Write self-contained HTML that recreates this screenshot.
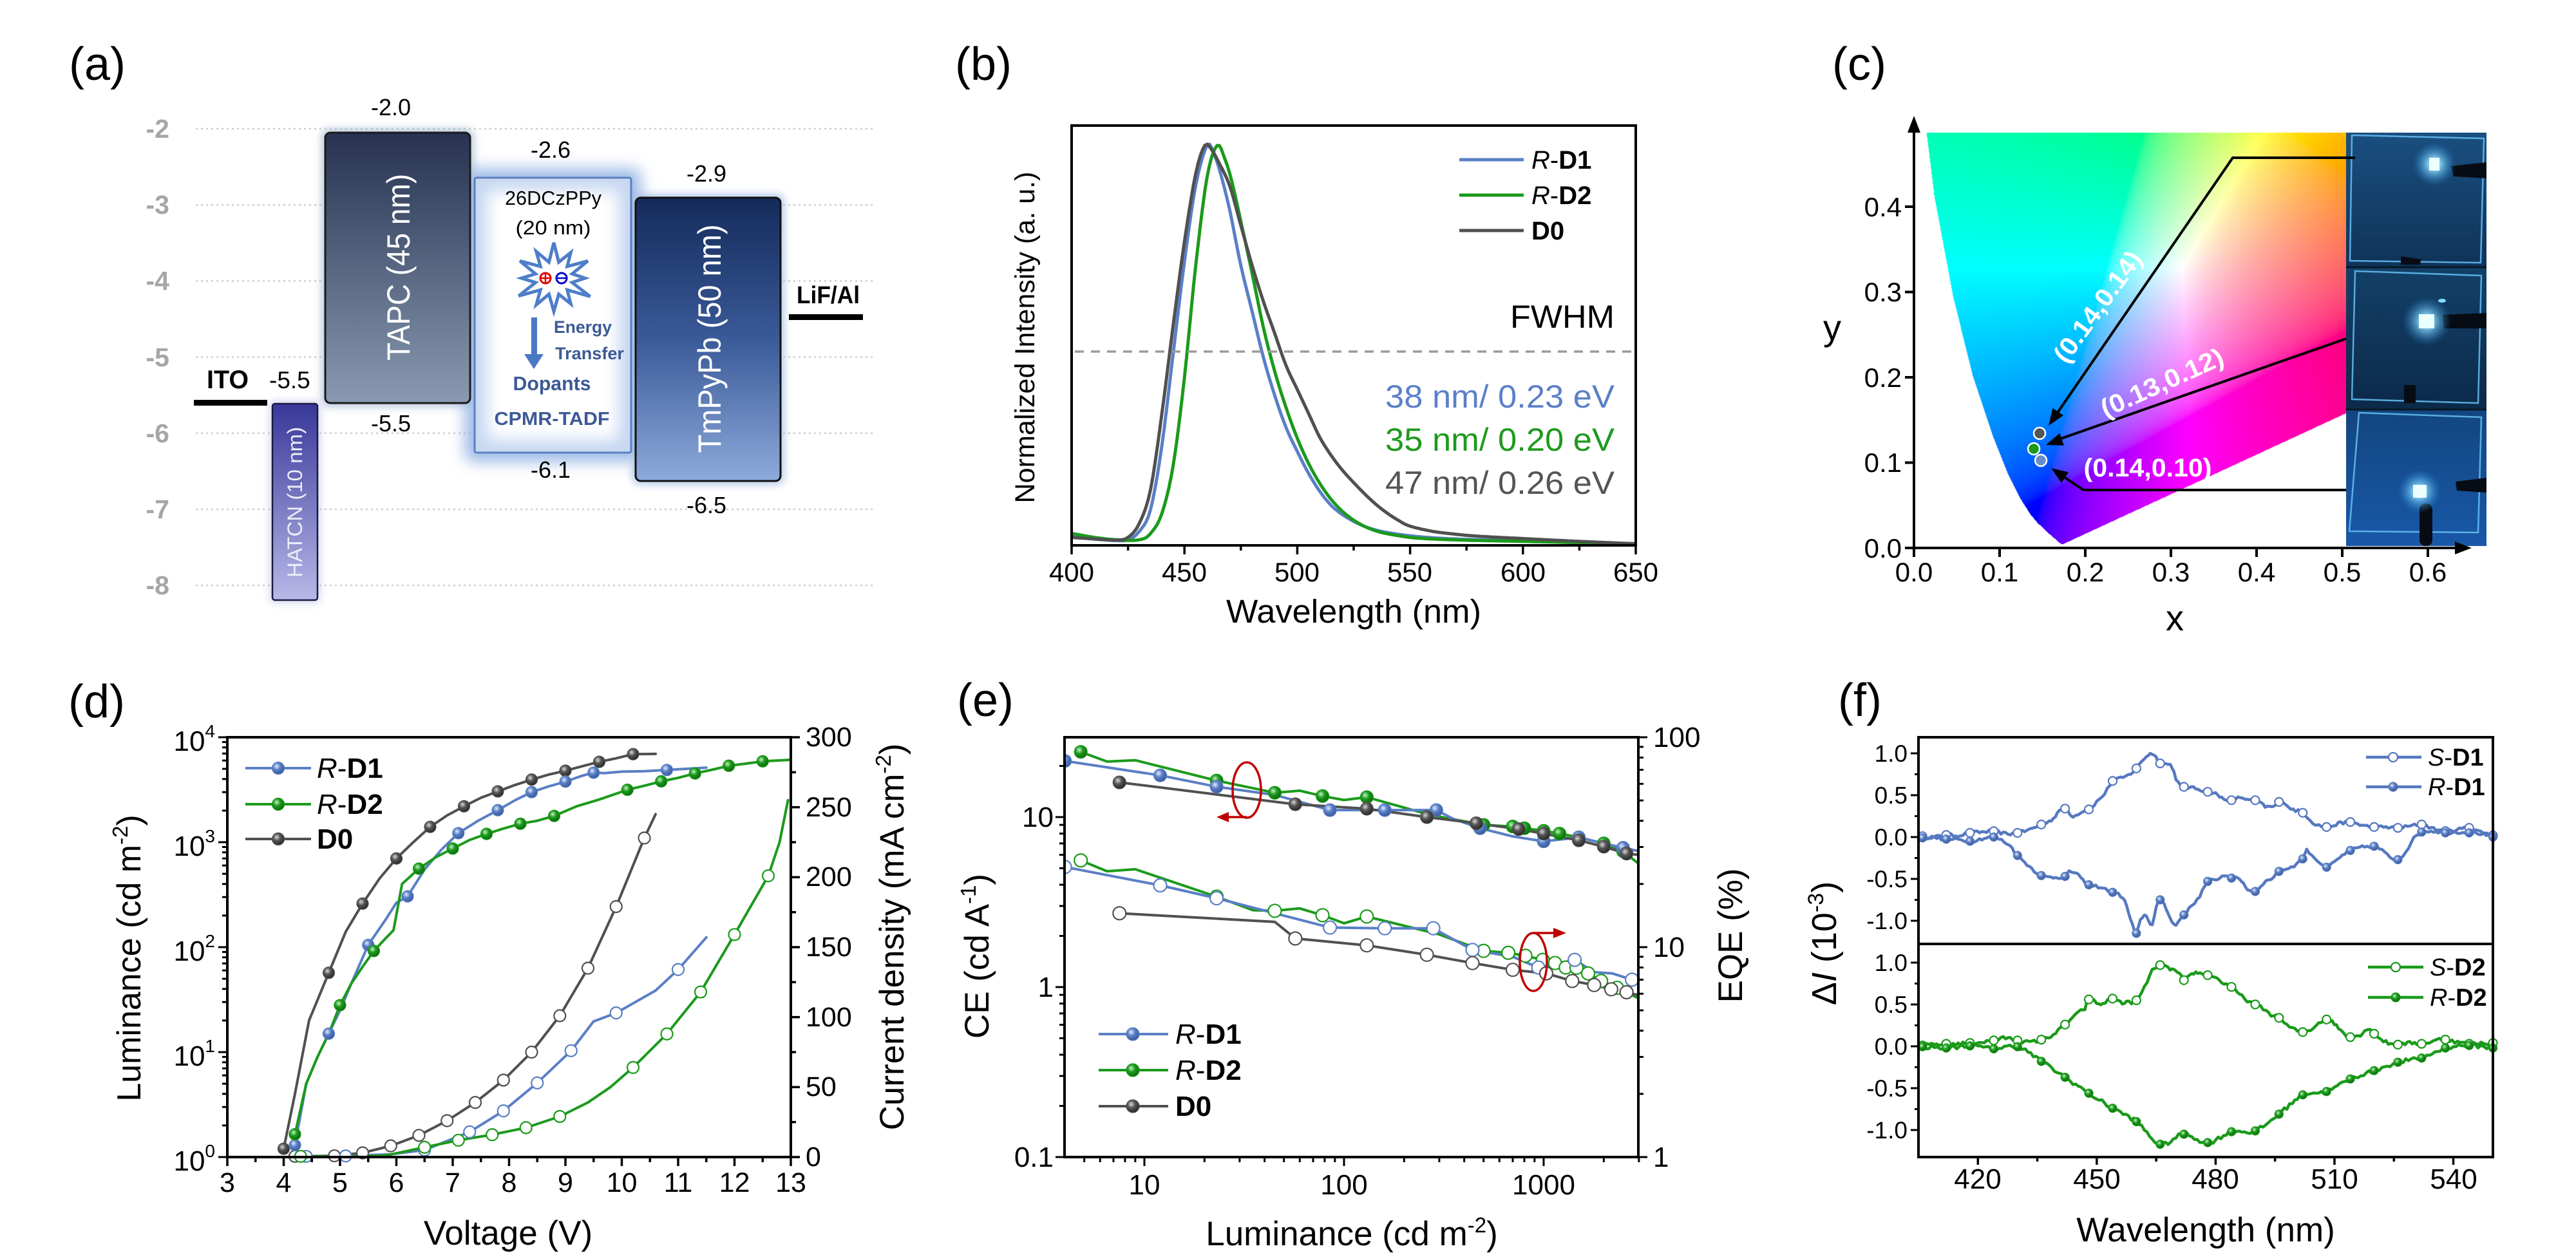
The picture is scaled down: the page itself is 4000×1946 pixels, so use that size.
<!DOCTYPE html>
<html><head><meta charset="utf-8">
<style>
html,body{margin:0;padding:0;background:#fff;}
#wrap{position:relative;width:4000px;height:1946px;overflow:hidden;background:#fff;}
#cie{position:absolute;left:2972px;top:195px;}
#s{position:absolute;left:0;top:0;}
text{font-family:"Liberation Sans",Arial,sans-serif;}
</style></head>
<body><div id="wrap">
<canvas id="cie" width="740" height="660"></canvas>
<svg id="s" width="4000" height="1946" viewBox="0 0 4000 1946" xmlns="http://www.w3.org/2000/svg">
<defs>
<radialGradient id="mB" cx="38%" cy="35%" r="65%"><stop offset="0" stop-color="#e4ecfa"/><stop offset=".45" stop-color="#5b80c8"/><stop offset="1" stop-color="#3a5a9a"/></radialGradient>
<radialGradient id="mG" cx="38%" cy="35%" r="65%"><stop offset="0" stop-color="#c8f0c8"/><stop offset=".45" stop-color="#1c9c1c"/><stop offset="1" stop-color="#0d6a0d"/></radialGradient>
<radialGradient id="mK" cx="38%" cy="35%" r="65%"><stop offset="0" stop-color="#d8d8d8"/><stop offset=".45" stop-color="#555"/><stop offset="1" stop-color="#2a2a2a"/></radialGradient>
<linearGradient id="gTAPC" x1="0" y1="0" x2="0" y2="1"><stop offset="0" stop-color="#263250"/><stop offset="1" stop-color="#8a9ab2"/></linearGradient>
<linearGradient id="gTm" x1="0" y1="0" x2="0" y2="1"><stop offset="0" stop-color="#142a5a"/><stop offset=".5" stop-color="#3a5a98"/><stop offset="1" stop-color="#8eaadb"/></linearGradient>
<linearGradient id="gHA" x1="0" y1="0" x2="0" y2="1"><stop offset="0" stop-color="#38389a"/><stop offset="1" stop-color="#b8b8e8"/></linearGradient>
<filter id="bl6" x="-50%" y="-50%" width="200%" height="200%"><feGaussianBlur stdDeviation="6"/></filter>
<filter id="bl12" x="-50%" y="-50%" width="200%" height="200%"><feGaussianBlur stdDeviation="12"/></filter>
<radialGradient id="glow"><stop offset="0" stop-color="#f0ffff"/><stop offset=".3" stop-color="#90e0ff" stop-opacity=".8"/><stop offset="1" stop-color="#2080d0" stop-opacity="0"/></radialGradient>
<linearGradient id="ph1" x1="0" y1="0" x2="0" y2="1"><stop offset="0" stop-color="#1a4f80"/><stop offset="1" stop-color="#0f3358"/></linearGradient>
<linearGradient id="ph2" x1="0" y1="0" x2="0" y2="1"><stop offset="0" stop-color="#134068"/><stop offset="1" stop-color="#0c2a4a"/></linearGradient>
<linearGradient id="ph3" x1="0" y1="0" x2="0" y2="1"><stop offset="0" stop-color="#134680"/><stop offset="1" stop-color="#1858a8"/></linearGradient>
<clipPath id="clipB"><rect x="1666" y="197" width="872" height="648"/></clipPath>
<clipPath id="clipE"><rect x="1655" y="1147" width="887" height="648"/></clipPath>
</defs>

<!-- ===== Panel (a) ===== -->
<g id="pa">
<g stroke="#cdcdcd" stroke-width="2.5" stroke-dasharray="3 5">
<line x1="304" y1="200" x2="1356" y2="200"/>
<line x1="304" y1="318.2" x2="1356" y2="318.2"/>
<line x1="304" y1="436.4" x2="1356" y2="436.4"/>
<line x1="304" y1="554.6" x2="1356" y2="554.6"/>
<line x1="304" y1="672.8" x2="1356" y2="672.8"/>
<line x1="304" y1="791" x2="1356" y2="791"/>
<line x1="304" y1="909.2" x2="1356" y2="909.2"/>
</g>
<g font-size="41" font-weight="bold" fill="#a6a6a6" text-anchor="end">
<text x="263" y="214">-2</text>
<text x="263" y="332">-3</text>
<text x="263" y="450">-4</text>
<text x="263" y="569">-5</text>
<text x="263" y="687">-6</text>
<text x="263" y="805">-7</text>
<text x="263" y="923">-8</text>
</g>
<text x="107" y="124" font-size="72">(a)</text>
<rect x="499" y="200" width="237" height="432" rx="12" fill="#9eb0cc" opacity=".7" filter="url(#bl6)"/>
<rect x="722" y="262" width="273" height="455" rx="12" fill="#9ab8e6" filter="url(#bl12)"/>
<rect x="981" y="301" width="237" height="452" rx="12" fill="#a6c0e4" opacity=".8" filter="url(#bl6)"/>
<rect x="419" y="623" width="78" height="313" rx="6" fill="#b6b6e6" opacity=".6" filter="url(#bl6)"/>
<rect x="301" y="621" width="114" height="9" fill="#000"/>
<text x="321" y="603" font-size="40" font-weight="bold" textLength="65" lengthAdjust="spacingAndGlyphs">ITO</text>
<text x="418" y="603" font-size="37">-5.5</text>
<rect x="423" y="627" width="70" height="305" rx="4" fill="url(#gHA)" stroke="#1a1a40" stroke-width="2.5"/>
<text transform="translate(469,780) rotate(-90)" text-anchor="middle" font-size="32" fill="#ececf8" textLength="234" lengthAdjust="spacingAndGlyphs">HATCN (10 nm)</text>
<rect x="505" y="206" width="225" height="420" rx="8" fill="url(#gTAPC)" stroke="#1a1a1a" stroke-width="3"/>
<text transform="translate(636,415) rotate(-90)" text-anchor="middle" font-size="50" fill="#fff" textLength="290" lengthAdjust="spacingAndGlyphs">TAPC (45 nm)</text>
<text x="607" y="179" font-size="36" text-anchor="middle">-2.0</text>
<text x="607" y="670" font-size="36" text-anchor="middle">-5.5</text>
<rect x="737" y="276" width="243" height="427" rx="3" fill="#c6d7f1"/>
<rect x="757" y="296" width="203" height="387" fill="#fff" filter="url(#bl12)"/>
<rect x="737" y="276" width="243" height="427" rx="3" fill="none" stroke="#5a80c0" stroke-width="3"/>
<text x="859" y="318" font-size="31" text-anchor="middle" textLength="150" lengthAdjust="spacingAndGlyphs">26DCzPPy</text>
<text x="859" y="364" font-size="31" text-anchor="middle" textLength="117" lengthAdjust="spacingAndGlyphs">(20 nm)</text>
<g id="star"></g>
<rect x="825" y="493" width="9" height="58" fill="#4a78c4"/>
<polygon points="814,550 844,550 829,573" fill="#4a78c4"/>
<g font-weight="bold" fill="#3c5a96">
<text x="860" y="517" font-size="27" textLength="90" lengthAdjust="spacingAndGlyphs">Energy</text>
<text x="862" y="558" font-size="27" textLength="107" lengthAdjust="spacingAndGlyphs">Transfer</text>
<text x="857" y="606" font-size="31" text-anchor="middle" textLength="121" lengthAdjust="spacingAndGlyphs">Dopants</text>
<text x="857" y="660" font-size="29" text-anchor="middle" textLength="179" lengthAdjust="spacingAndGlyphs">CPMR-TADF</text>
</g>
<text x="855" y="245" font-size="36" text-anchor="middle">-2.6</text>
<text x="855" y="742" font-size="36" text-anchor="middle">-6.1</text>
<rect x="987" y="307" width="225" height="440" rx="8" fill="url(#gTm)" stroke="#111" stroke-width="3"/>
<text transform="translate(1119,526) rotate(-90)" text-anchor="middle" font-size="50" fill="#fff" textLength="355" lengthAdjust="spacingAndGlyphs">TmPyPb (50 nm)</text>
<text x="1097" y="282" font-size="36" text-anchor="middle">-2.9</text>
<text x="1097" y="797" font-size="36" text-anchor="middle">-6.5</text>
<rect x="1225" y="488" width="115" height="9" fill="#000"/>
<text x="1237" y="471" font-size="38" font-weight="bold" textLength="98" lengthAdjust="spacingAndGlyphs">LiF/Al</text>
</g>

<g id="data"></g>
<g id="axes"></g>

<!-- ===== Panel (b) static ===== -->
<text x="1483" y="124" font-size="72">(b)</text>
<rect x="1664" y="195" width="876" height="652" fill="none" stroke="#000" stroke-width="4"/>
<line x1="1669" y1="546" x2="2534" y2="546" stroke="#9a9a9a" stroke-width="3.5" stroke-dasharray="14 11"/>
<g font-size="42" text-anchor="middle">
<text x="1664" y="903">400</text><text x="1839" y="903">450</text><text x="2014" y="903">500</text>
<text x="2189" y="903">550</text><text x="2365" y="903">600</text><text x="2540" y="903">650</text>
</g>
<text x="2102" y="967" font-size="51" text-anchor="middle" textLength="396" lengthAdjust="spacingAndGlyphs">Wavelength (nm)</text>
<text transform="translate(1606,524) rotate(-90)" font-size="43" text-anchor="middle" textLength="515" lengthAdjust="spacingAndGlyphs">Normalized Intensity (a. u.)</text>
<line x1="2266" y1="248" x2="2366" y2="248" stroke="#5a7fc6" stroke-width="5"/>
<line x1="2266" y1="303" x2="2366" y2="303" stroke="#1b9a1b" stroke-width="5"/>
<line x1="2266" y1="358" x2="2366" y2="358" stroke="#505050" stroke-width="5"/>
<g font-size="40">
<text x="2378" y="262"><tspan font-style="italic">R</tspan>-<tspan font-weight="bold">D1</tspan></text>
<text x="2378" y="317"><tspan font-style="italic">R</tspan>-<tspan font-weight="bold">D2</tspan></text>
<text x="2378" y="372"><tspan font-weight="bold">D0</tspan></text>
</g>
<g font-size="50" text-anchor="end">
<text x="2507" y="509" textLength="162" lengthAdjust="spacingAndGlyphs">FWHM</text>
<text x="2507" y="633" fill="#5b80c8" textLength="356" lengthAdjust="spacingAndGlyphs">38 nm/ 0.23 eV</text>
<text x="2507" y="700" fill="#1e9a1e" textLength="356" lengthAdjust="spacingAndGlyphs">35 nm/ 0.20 eV</text>
<text x="2507" y="767" fill="#555" textLength="356" lengthAdjust="spacingAndGlyphs">47 nm/ 0.26 eV</text>
</g>

<!-- ===== Panel (c) static ===== -->
<text x="2845" y="124" font-size="72">(c)</text>
<g id="photos">
<rect x="3643" y="206" width="218" height="209" fill="url(#ph1)"/>
<rect x="3643" y="415" width="218" height="221" fill="url(#ph2)"/>
<rect x="3643" y="636" width="218" height="212" fill="url(#ph3)"/>
<line x1="3643" y1="415" x2="3861" y2="415" stroke="#081828" stroke-width="3"/>
<line x1="3643" y1="636" x2="3861" y2="636" stroke="#081828" stroke-width="3"/>
<g fill="none" stroke="#66c0f4" stroke-width="2.5" opacity=".85">
<polygon points="3652,210 3857,215 3852,408 3649,405"/>
<polygon points="3657,421 3853,428 3848,626 3652,620"/>
<polygon points="3663,641 3853,648 3848,827 3648,825"/>
</g>
<g fill="#070c14">
<polygon points="3806,258 3861,252 3861,277 3810,274"/>
<polygon points="3728,398 3760,403 3757,411 3728,411"/>
<polygon points="3793,489 3861,486 3861,510 3795,510"/>
<rect x="3733" y="598" width="18" height="28"/>
<polygon points="3813,748 3861,742 3861,765 3815,762"/>
<rect x="3757" y="782" width="20" height="66" rx="9"/>
</g>
<circle cx="3780" cy="255" r="34" fill="url(#glow)"/>
<rect x="3772" y="245" width="16" height="20" fill="#ecffff"/>
<circle cx="3768" cy="499" r="38" fill="url(#glow)"/>
<rect x="3756" y="488" width="24" height="22" fill="#ecffff"/>
<ellipse cx="3792" cy="467" rx="6" ry="3" fill="#7fe0ff"/>
<circle cx="3757" cy="763" r="34" fill="url(#glow)"/>
<rect x="3747" y="753" width="21" height="20" fill="#ecffff"/>
</g>
<g stroke="#000" stroke-width="4" fill="none">
<line x1="2972" y1="851" x2="2972" y2="200"/>
<line x1="2972" y1="851" x2="3815" y2="851"/>
<polyline points="3657,245 3467,245 3190,648"/>
<line x1="3643" y1="526" x2="3195" y2="683"/>
<polyline points="3643,761 3235,761 3198,736"/>
</g>
<polygon points="2972,180 2962,206 2982,206" fill="#000"/>
<polygon points="3838,851 3812,841 3812,861" fill="#000"/>
<g id="cArrows" fill="#000"></g>
<circle cx="3167" cy="673" r="9" fill="#555" stroke="#fff" stroke-width="2.5"/>
<circle cx="3158" cy="697" r="9" fill="#1a9a1a" stroke="#fff" stroke-width="2.5"/>
<circle cx="3169" cy="715" r="9" fill="#6a8cc8" stroke="#fff" stroke-width="2.5"/>
<g font-size="40" font-weight="bold" fill="#fff" text-anchor="middle">
<text transform="translate(3257,476) rotate(-54)" dy="14" textLength="203" lengthAdjust="spacingAndGlyphs">(0.14,0.14)</text>
<text transform="translate(3357,594) rotate(-24.4)" dy="14" textLength="205" lengthAdjust="spacingAndGlyphs">(0.13,0.12)</text>
<text x="3335" y="740" textLength="199" lengthAdjust="spacingAndGlyphs">(0.14,0.10)</text>
</g>
<g font-size="42" text-anchor="end">
<text x="2953" y="866">0.0</text><text x="2953" y="733">0.1</text><text x="2953" y="601">0.2</text>
<text x="2953" y="468">0.3</text><text x="2953" y="336">0.4</text>
</g>
<g font-size="42" text-anchor="middle">
<text x="2972" y="903">0.0</text><text x="3105" y="903">0.1</text><text x="3238" y="903">0.2</text>
<text x="3371" y="903">0.3</text><text x="3504" y="903">0.4</text><text x="3637" y="903">0.5</text><text x="3770" y="903">0.6</text>
</g>
<text x="2845" y="528" font-size="56" text-anchor="middle">y</text>
<text x="3377" y="979" font-size="56" text-anchor="middle">x</text>

<!-- ===== Panel (d) static ===== -->
<text x="106" y="1114" font-size="72">(d)</text>
<rect x="353" y="1145" width="875" height="652" fill="none" stroke="#000" stroke-width="4"/>
<g font-size="43" text-anchor="middle">
<text x="353" y="1851">3</text><text x="440.5" y="1851">4</text><text x="528" y="1851">5</text><text x="615.5" y="1851">6</text>
<text x="703" y="1851">7</text><text x="790.5" y="1851">8</text><text x="878" y="1851">9</text><text x="965.5" y="1851">10</text>
<text x="1053" y="1851">11</text><text x="1140.5" y="1851">12</text><text x="1228" y="1851">13</text>
</g>
<g font-size="44" text-anchor="end">
<text x="334" y="1818">10<tspan dy="-21" font-size="28">0</tspan></text>
<text x="334" y="1655">10<tspan dy="-21" font-size="28">1</tspan></text>
<text x="334" y="1492">10<tspan dy="-21" font-size="28">2</tspan></text>
<text x="334" y="1329">10<tspan dy="-21" font-size="28">3</tspan></text>
<text x="334" y="1166">10<tspan dy="-21" font-size="28">4</tspan></text>
</g>
<g font-size="43">
<text x="1251" y="1811">0</text><text x="1251" y="1702">50</text><text x="1251" y="1594">100</text>
<text x="1251" y="1485">150</text><text x="1251" y="1376">200</text><text x="1251" y="1268">250</text><text x="1251" y="1159">300</text>
</g>
<text x="789" y="1933" font-size="53" text-anchor="middle">Voltage (V)</text>
<text transform="translate(218,1488) rotate(-90)" font-size="52" text-anchor="middle">Luminance (cd m<tspan dy="-20" font-size="33">-2</tspan><tspan dy="20">)</tspan></text>
<text transform="translate(1403,1455) rotate(-90)" font-size="53" text-anchor="middle">Current density (mA cm<tspan dy="-20" font-size="33">-2</tspan><tspan dy="20">)</tspan></text>
<g font-size="44">
<text x="492" y="1208"><tspan font-style="italic">R</tspan>-<tspan font-weight="bold">D1</tspan></text>
<text x="492" y="1264"><tspan font-style="italic">R</tspan>-<tspan font-weight="bold">D2</tspan></text>
<text x="492" y="1318"><tspan font-weight="bold">D0</tspan></text>
</g>

<!-- ===== Panel (e) static ===== -->
<text x="1486" y="1112" font-size="72">(e)</text>
<rect x="1653" y="1145" width="891" height="652" fill="none" stroke="#000" stroke-width="4"/>
<g font-size="44" text-anchor="end">
<text x="1636" y="1812">0.1</text><text x="1636" y="1548">1</text><text x="1636" y="1284">10</text>
</g>
<g font-size="44">
<text x="2567" y="1812">1</text><text x="2567" y="1486">10</text><text x="2567" y="1160">100</text>
</g>
<g font-size="44" text-anchor="middle">
<text x="1777" y="1855">10</text><text x="2087" y="1855">100</text><text x="2397" y="1855">1000</text>
</g>
<text x="2099" y="1934" font-size="53" text-anchor="middle">Luminance (cd m<tspan dy="-20" font-size="33">-2</tspan><tspan dy="20">)</tspan></text>
<text transform="translate(1535,1485) rotate(-90)" font-size="53" text-anchor="middle">CE (cd A<tspan dy="-20" font-size="33">-1</tspan><tspan dy="20">)</tspan></text>
<text transform="translate(2705,1453) rotate(-90)" font-size="53" text-anchor="middle">EQE (%)</text>
<g font-size="44">
<text x="1825" y="1621"><tspan font-style="italic">R</tspan>-<tspan font-weight="bold">D1</tspan></text>
<text x="1825" y="1677"><tspan font-style="italic">R</tspan>-<tspan font-weight="bold">D2</tspan></text>
<text x="1825" y="1733"><tspan font-weight="bold">D0</tspan></text>
</g>
<g fill="none" stroke="#c00000" stroke-width="3.5">
<ellipse cx="1936" cy="1227" rx="22" ry="43"/>
<line x1="1936" y1="1269" x2="1905" y2="1269"/>
<ellipse cx="2381" cy="1494" rx="21" ry="45"/>
<line x1="2381" y1="1449" x2="2414" y2="1449"/>
</g>
<polygon points="1889,1269 1908,1261 1908,1277" fill="#c00000"/>
<polygon points="2432,1449 2412,1441 2412,1457" fill="#c00000"/>

<!-- ===== Panel (f) static ===== -->
<text x="2854" y="1112" font-size="72">(f)</text>
<rect x="2979" y="1145" width="892" height="652" fill="none" stroke="#000" stroke-width="4"/>
<line x1="2979" y1="1466" x2="3871" y2="1466" stroke="#000" stroke-width="4"/>
<g font-size="37" text-anchor="end">
<text x="2962" y="1183">1.0</text><text x="2962" y="1248">0.5</text><text x="2962" y="1313">0.0</text>
<text x="2962" y="1378">-0.5</text><text x="2962" y="1443">-1.0</text>
<text x="2962" y="1508">1.0</text><text x="2962" y="1573">0.5</text><text x="2962" y="1638">0.0</text>
<text x="2962" y="1703">-0.5</text><text x="2962" y="1768">-1.0</text>
</g>
<g font-size="44" text-anchor="middle">
<text x="3071" y="1846">420</text><text x="3256" y="1846">450</text><text x="3440" y="1846">480</text>
<text x="3625" y="1846">510</text><text x="3810" y="1846">540</text>
</g>
<text x="3425" y="1928" font-size="53" text-anchor="middle">Wavelength (nm)</text>
<text transform="translate(2851,1465) rotate(-90)" font-size="54" text-anchor="middle">Δ<tspan font-style="italic">I</tspan> (10<tspan dy="-20" font-size="34">-3</tspan><tspan dy="20">)</tspan></text>
<g font-size="38">
<text x="3770" y="1189"><tspan font-style="italic">S</tspan>-<tspan font-weight="bold">D1</tspan></text>
<text x="3770" y="1235"><tspan font-style="italic">R</tspan>-<tspan font-weight="bold">D1</tspan></text>
<text x="3773" y="1515"><tspan font-style="italic">S</tspan>-<tspan font-weight="bold">D2</tspan></text>
<text x="3773" y="1562"><tspan font-style="italic">R</tspan>-<tspan font-weight="bold">D2</tspan></text>
</g>
</svg>
</div>
<script>
(function(){
const cv=document.getElementById('cie');const ctx=cv.getContext('2d');const W=cv.width,H=cv.height;
const loc=[[0.1741,0.0050],[0.1738,0.0049],[0.1733,0.0048],[0.1726,0.0048],[0.1714,0.0051],[0.1689,0.0069],[0.1644,0.0109],[0.1566,0.0177],[0.1440,0.0297],[0.1355,0.0399],[0.1241,0.0578],[0.1096,0.0868],[0.0913,0.1327],[0.0687,0.2007],[0.0454,0.2950],[0.0235,0.4127],[0.0082,0.5384],[0.0039,0.6548],[0.0139,0.7502],[0.0743,0.8338],[0.1547,0.8059],[0.2296,0.7543],[0.3016,0.6923],[0.3731,0.6245],[0.4441,0.5547],[0.5125,0.4866],[0.5752,0.4242],[0.6270,0.3725],[0.6658,0.3340],[0.6915,0.3083],[0.7190,0.2809],[0.7347,0.2653]];
function inside(x,y){let c=false;for(let i=0,j=loc.length-1;i<loc.length;j=i++){const xi=loc[i][0],yi=loc[i][1],xj=loc[j][0],yj=loc[j][1];if(((yi>y)!=(yj>y))&&(x<(xj-xi)*(y-yi)/(yj-yi)+xi))c=!c;}return c;}
const im=ctx.createImageData(W,H);const d=im.data;
const gm=v=>v<=0.0031308?12.92*v:1.055*Math.pow(v,1/2.4)-0.055;
for(let j=0;j<H;j++){const y=(656-j)/1325;if(y>0.4875||y<=0)continue;for(let i=0;i<W;i++){const x=i/1330;if(!inside(x,y))continue;const X=x/y,Z=(1-x-y)/y;let r=3.2406*X-1.5372-0.4986*Z,g=-0.9689*X+1.8758+0.0415*Z,b=0.0557*X-0.2040+1.0570*Z;r=Math.max(r,0);g=Math.max(g,0);b=Math.max(b,0);const m=Math.max(r,g,b)||1;const k=(j*W+i)*4;d[k]=255*gm(r/m);d[k+1]=255*gm(g/m);d[k+2]=255*gm(b/m);d[k+3]=255;}}
ctx.putImageData(im,0,0);

const NS="http://www.w3.org/2000/svg";
const D=document.getElementById('data'),A=document.getElementById('axes');
function el(t,a,p){const e=document.createElementNS(NS,t);for(const k in a)e.setAttribute(k,a[k]);(p||D).appendChild(e);return e;}
function pl(pts,c,w,p){return el('polyline',{points:pts.map(q=>q[0].toFixed(1)+','+q[1].toFixed(1)).join(' '),fill:'none',stroke:c,'stroke-width':w,'stroke-linejoin':'round','stroke-linecap':'round'},p);}
function ln(x1,y1,x2,y2,w,c,p){return el('line',{x1:x1,y1:y1,x2:x2,y2:y2,stroke:c||'#000','stroke-width':w||4},p||A);}
function mk(x,y,r,c,filled,g,p){if(filled)el('circle',{cx:x,cy:y,r:r,fill:'url(#'+g+')',stroke:c,'stroke-width':1.2},p);else el('circle',{cx:x,cy:y,r:r,fill:'#fff',stroke:c,'stroke-width':2.2},p);}
function cr(tab,step){const o=[];const n=tab.length;for(let i=0;i<n-1;i++){const p0=tab[Math.max(0,i-1)],p1=tab[i],p2=tab[i+1],p3=tab[Math.min(n-1,i+2)];const m=Math.max(1,Math.ceil((p2[0]-p1[0])/step));for(let k=0;k<m;k++){const t=k/m,t2=t*t,t3=t2*t;const f=(a,b,c,dd)=>0.5*((2*b)+(-a+c)*t+(2*a-5*b+4*c-dd)*t2+(-a+3*b-3*c+dd)*t3);o.push([f(p0[0],p1[0],p2[0],p3[0]),f(p0[1],p1[1],p2[1],p3[1])]);}}o.push([tab[n-1][0],tab[n-1][1]]);return o;}
let seed=12345;const rnd=()=>{seed=(seed*16807)%2147483647;return seed/2147483647;};

(function(){const S=document.getElementById('star');const R=[60,50,58,46,62,50,56,52,60,48,58,52];let pts=[];const n=12;for(let i=0;i<2*n;i++){const a=-Math.PI/2+i*Math.PI/n;const r=(i%2==0)?R[i/2]:28;pts.push((860+Math.cos(a)*r*1.05).toFixed(1)+','+(432+Math.sin(a)*r*0.92).toFixed(1));}
el('polygon',{points:pts.join(' '),fill:'#fff',stroke:'#4f7ec8','stroke-width':5,'stroke-linejoin':'miter'},S);
el('circle',{cx:847,cy:432,r:8,fill:'#fff',stroke:'#e00000','stroke-width':3},S);
el('line',{x1:839,y1:432,x2:855,y2:432,stroke:'#e00000','stroke-width':2.5},S);
el('line',{x1:847,y1:424,x2:847,y2:440,stroke:'#e00000','stroke-width':2.5},S);
el('circle',{cx:872,cy:432,r:8,fill:'#fff',stroke:'#0000d0','stroke-width':3},S);
el('line',{x1:864,y1:432,x2:880,y2:432,stroke:'#0000d0','stroke-width':2.5},S);})();

(function(){const G=document.getElementById('cArrows');
function ah(tx,ty,fx,fy){const dx=tx-fx,dy=ty-fy,L=Math.hypot(dx,dy),ux=dx/L,uy=dy/L;const bx=tx-ux*26,by=ty-uy*26;el('polygon',{points:[tx,ty,bx-uy*10,by+ux*10,bx+uy*10,by-ux*10].map(v=>v.toFixed(1)).join(' ')},G);}
ah(3181,661,3467,245);ah(3177,691,3643,526);ah(3185,727,3235,761);})();

/* (b) */
const xb=l=>1664+(l-400)*3.504,yb=v=>847-621*v;
const specK=[[400,.02],[405,.018],[410,.016],[415,.014],[420,.013],[425,.02],[430,.055],[435,.14],[440,.33],[445,.55],[450,.76],[455,.93],[459,1.0],[462,.99],[465,.96],[470,.90],[475,.80],[480,.70],[485,.61],[490,.53],[495,.45],[500,.39],[505,.33],[510,.27],[515,.225],[520,.188],[525,.157],[530,.128],[535,.102],[540,.08],[545,.062],[550,.048],[560,.035],[570,.028],[580,.023],[600,.017],[625,.01],[650,.004]];
const specB=[[400,.022],[410,.016],[420,.012],[425,.014],[430,.035],[435,.09],[440,.25],[445,.48],[450,.71],[455,.90],[460,1.0],[463,.98],[466,.93],[470,.84],[475,.70],[480,.585],[485,.47],[490,.375],[495,.295],[500,.235],[505,.18],[510,.135],[515,.10],[520,.077],[525,.06],[530,.047],[535,.038],[540,.032],[550,.024],[560,.019],[575,.015],[600,.011],[625,.007],[650,.004]];
const specG=[[400,.03],[410,.02],[420,.014],[430,.014],[435,.03],[440,.08],[445,.2],[450,.42],[455,.7],[460,.92],[464.5,1.0],[468,.965],[471,.91],[475,.81],[480,.68],[485,.545],[490,.435],[495,.345],[500,.268],[505,.205],[510,.155],[515,.115],[520,.085],[525,.063],[530,.047],[535,.036],[540,.029],[550,.02],[560,.016],[575,.013],[600,.01],[625,.007],[650,.004]];
const gB=el('g',{'clip-path':'url(#clipB)'});
[[specB,'#5a7fc6'],[specG,'#1b9a1b'],[specK,'#505050']].forEach(s=>pl(cr(s[0],1).map(p=>[xb(p[0]),yb(p[1])]),s[1],5,gB));
for(let l=400;l<=650;l+=25){const x=xb(l);ln(x,847,x,847+(l%50==0?14:8),3.5);}

/* (c) ticks */
for(let i=0;i<=4;i++){const y=851-i*132.5;ln(2958,y,2972,y,4);}
for(let i=0;i<=6;i++){const x=2972+i*133;ln(x,851,x,865,4);}

/* (d) */
const xd=v=>353+(v-3)*87.5,yL=L=>1797-Math.log10(L)*163,yJ=j=>1797-j*2.1733;
for(let k=6;k<=26;k++){const v=k/2,x=xd(v);ln(x,1797,x,1797+(k%2==0?14:8),3.5);}
for(let dec=0;dec<4;dec++)for(let k=1;k<10;k++){const y=yL(k*Math.pow(10,dec));ln(353-(k==1?14:8),y,353,y,3);}
ln(339,1145,353,1145,3);
for(let j=0;j<=300;j+=25){const y=yJ(j);ln(1228,y,1228+(j%50==0?14:8),y,3.5);}
const dK='#505050',dB='#5a7fc6',dG='#1b9a1b';
const dL=[
[[[4.0,1.2,1],[4.2,4],[4.45,20],[4.8,57,1],[5.1,140],[5.4,260,1],[5.7,450],[6.0,700,1],[6.3,1000],[6.6,1400,1],[6.9,1800],[7.2,2200,1],[7.5,2650],[7.8,3050,1],[8.1,3500],[8.4,3950,1],[8.7,4400],[9.0,4800,1],[9.3,5300],[9.6,5830,1],[9.9,6300],[10.2,6900,1],[10.6,6950]],dK,'mK'],
[[[4.2,1.3,1],[4.4,5],[4.6,9],[4.8,15,1],[5.0,25],[5.2,45],[5.5,105,1],[5.8,180],[6.0,265],[6.2,305,1],[6.5,550],[6.8,850],[7.1,1220,1],[7.45,1600],[7.8,2020,1],[8.1,2500],[8.4,3000,1],[8.7,3400],[9.0,3780,1],[9.3,4300],[9.5,4600,1],[9.7,4550],[10.0,4700],[10.4,4750],[10.8,4880,1],[11.5,5130]],dB,'mB'],
[[[4.2,1.65,1],[4.4,5],[4.6,9],[4.8,15],[5.0,28,1],[5.2,45],[5.4,65],[5.6,92,1],[5.8,120],[5.95,145],[6.1,400],[6.4,560,1],[6.7,720],[7.0,870,1],[7.3,1050],[7.6,1200,1],[7.9,1350],[8.2,1500,1],[8.5,1600],[8.8,1780,1],[9.2,2200],[9.6,2550],[10.1,3160,1],[10.4,3450],[10.7,3800,1],[11.0,4100],[11.3,4520,1],[11.6,4900],[11.9,5350,1],[12.2,5600],[12.5,5900,1],[13.0,6100]],dG,'mG']];
const dJ=[
[[[4.2,0.5,1],[4.9,0.9,1],[5.4,3,1],[5.9,8,1],[6.4,15.5,1],[6.9,26,1],[7.4,39,1],[7.9,55,1],[8.4,75,1],[8.9,101,1],[9.4,135,1],[9.9,179,1],[10.4,228,1],[10.6,245]],dK],
[[[4.4,0.5,1],[5.1,0.8,1],[5.9,2],[6.5,5,1],[7.3,18,1],[7.9,33,1],[8.5,53,1],[9.1,76,1],[9.5,97],[9.9,103,1],[10.6,119],[11.0,134,1],[11.5,157]],dB],
[[[4.3,0.5,1],[5.1,0.5],[5.8,1],[6.5,7,1],[7.1,12,1],[7.7,16,1],[8.3,21,1],[8.9,29,1],[9.4,39],[9.8,50],[10.2,64,1],[10.8,88,1],[11.4,118,1],[12.0,159,1],[12.3,180],[12.6,201,1],[12.8,225],[12.95,255]],dG]];
dJ.forEach(s=>{pl(s[0].map(p=>[xd(p[0]),yJ(p[1])]),s[1],4);});
dL.forEach(s=>{pl(s[0].map(p=>[xd(p[0]),yL(p[1])]),s[1],4);});
dJ.forEach(s=>{s[0].forEach(p=>{if(p[2])mk(xd(p[0]),yJ(p[1]),9,s[1],false);});});
dL.forEach(s=>{s[0].forEach(p=>{if(p[2])mk(xd(p[0]),yL(p[1]),9,s[1],true,s[2]);});});
[[1193,dB,'mB'],[1249,dG,'mG'],[1303,dK,'mK']].forEach(r=>{ln(381,r[0],483,r[0],4,r[1],D);mk(432,r[0],9.5,r[1],true,r[2]);});

/* (e) */
const xe=L=>1777+(Math.log10(L)-1)*310,yce=c=>1269-(Math.log10(c)-1)*264,yeq=e=>1797-Math.log10(e)*326;
[0.1,0.2,0.3,0.4,0.5,0.6,0.7,0.8,0.9,1,2,3,4,5,6,7,8,9,10,20].forEach(v=>{const y=yce(v);const mj=(v==0.1||v==1||v==10);ln(1653-(mj?14:8),y,1653,y,3);});
[1,2,3,4,5,6,7,8,9,10,20,30,40,50,60,70,80,90,100].forEach(v=>{const y=yeq(v);const mj=(v==1||v==10||v==100);ln(2544,y,2544+(mj?14:8),y,3);});
[5,6,7,8,9,10,20,30,40,50,60,70,80,90,100,200,300,400,500,600,700,800,900,1000,2000,3000].forEach(v=>{const x=xe(v);const mj=(v==10||v==100||v==1000);ln(x,1797,x,1797+(mj?14:8),3);});
const gE=el('g',{'clip-path':'url(#clipE)'});
const eCE=[
[[[4.8,24.2,1],[6.5,21.2],[9,21.6],[23,16.4,1],[45,13.9,1],[60,14.3],[78,13.3,1],[100,12.6],[130,13.1,1],[270,10.3],[500,9.0,1],[700,8.8,1],[800,8.6,1],[1000,8.3,1],[1200,8.0,1],[1500,7.6,1],[2000,7.0,1],[2500,6.3,1],[3000,5.3]],dG,'mG'],
[[[4,21.4,1],[12,17.6,1],[23,15.1,1],[45,13.5],[85,11.0,1],[160,11.0,1],[290,11.0,1],[350,9.8],[480,8.6,1],[700,7.7],[1000,7.2,1],[1500,7.6,1],[2000,7.0],[2500,6.6,1],[3000,6.3]],dB,'mB'],
[[[7.5,16.0,1],[57,11.9,1],[130,11.2,1],[260,10.0,1],[460,9.2,1],[750,8.5,1],[1000,8.0,1],[1500,7.3,1],[2000,6.7,1],[2600,6.1,1],[3000,6.0]],dK,'mK']];
const eEQ=[
[[[4.8,25.9,1],[6.5,23],[9,23.5],[23,17.4,1],[35,15],[45,14.9,1],[60,15.3],[78,14.2,1],[100,13.0],[130,14.0,1],[300,11.5],[500,9.6,1],[665,9.4,1],[810,9.1,1],[990,8.7,1],[1140,8.4,1],[1290,8.0,1],[1460,7.98,1],[1670,7.5,1],[1940,6.9,1],[2330,6.4,1],[3000,5.7]],dG],
[[[4,24.1,1],[12,19.7,1],[23,17.1,1],[45,14.5],[85,12.4,1],[160,12.3,1],[280,12.3,1],[440,9.7,1],[700,9.0],[940,8.0,1],[1430,8.7,1],[1790,7.6],[2200,7.5],[2770,7.0,1],[3000,7.0]],dB],
[[[7.5,14.5,1],[45,13.2],[57,11.0,1],[130,10.2,1],[260,9.2,1],[440,8.4,1],[700,7.8,1],[1030,7.5,1],[1390,6.9,1],[1790,6.6,1],[2180,6.3,1],[2600,6.1,1],[3000,5.9]],dK]];
eEQ.forEach(s=>pl(s[0].map(p=>[xe(p[0]),yeq(p[1])]),s[1],4,gE));
eCE.forEach(s=>pl(s[0].map(p=>[xe(p[0]),yce(p[1])]),s[1],4,gE));
eEQ.forEach(s=>s[0].forEach(p=>{if(p[2])mk(xe(p[0]),yeq(p[1]),10,s[1],false,null,gE);}));
eCE.forEach(s=>s[0].forEach(p=>{if(p[2])mk(xe(p[0]),yce(p[1]),10,s[1],true,s[2],gE);}));
[[1606,dB,'mB'],[1662,dG,'mG'],[1718,dK,'mK']].forEach(r=>{ln(1706,r[0],1814,r[0],4,r[1],D);mk(1759,r[0],10,r[1],true,r[2]);});

/* (f) */
const xf=l=>2979+(l-405)*6.152,yt=v=>1300-v*130,ybt=v=>1625-v*130;
for(let l=420;l<=540;l+=15){const x=xf(l);ln(x,1797,x,1797+((l-420)%30==0?12:7),3.5);}
[[1300],[1625]].forEach(z=>{for(let k=-4;k<=4;k++){const y=z[0]-k*0.25*130;ln(2979-(k%2==0?12:6),y,2979,y,3);}});
const fB='#5678c0',fG='#1a9a1a';
const lam=[];for(let k=0;k<25;k++)lam.push(406+6*k);
const sd1=[[405,0],[406,.01],[409,.0],[412,.025],[415,.02],[418,.05],[421,.06],[424,.07],[427,.04],[430,.05],[433,.09],[436,.15],[439,.22],[440,.28],[442,.34],[444,.25],[446,.3],[448,.33],[450,.42],[452,.52],[454,.67],[456,.7],[458,.74],[460,.82],[462,.94],[463,.98],[464,1.0],[465,.95],[466,.88],[468,.87],[469,.84],[470,.7],[471,.62],[472,.6],[475,.58],[478,.54],[480,.52],[481,.48],[484,.44],[485,.46],[487,.47],[488,.44],[490,.44],[492,.38],[493,.36],[495,.37],[496,.42],[497,.43],[499,.34],[502,.29],[504,.2],[505,.16],[508,.12],[511,.16],[514,.18],[517,.14],[520,.12],[523,.12],[526,.11],[529,.13],[532,.15],[535,.1],[538,.07],[541,.09],[544,.11],[547,.06],[550,.02]];
const rd1=[[405,-0.01],[406,-.01],[409,-.01],[412,-.025],[415,-.03],[418,-.05],[421,-.02],[424,0],[426,-.04],[428,-.1],[430,-.22],[433,-.35],[436,-.46],[439,-.48],[442,-.47],[443,-.42],[445,-.43],[446,-.5],[448,-.57],[451,-.6],[454,-.66],[456,-.7],[457,-.76],[458,-.9],[459,-1.05],[460,-1.15],[461,-1.0],[462,-.93],[463,-.98],[464,-1.05],[465,-.85],[466,-.75],[467,-.8],[468,-.9],[469,-1.02],[470,-1.05],[471,-.98],[472,-.93],[474,-.82],[476,-.7],[478,-.53],[480,-.52],[481,-.48],[483,-.46],[484,-.49],[486,-.5],[487,-.55],[488,-.62],[490,-.65],[492,-.55],[494,-.5],[496,-.41],[499,-.36],[501,-.3],[502,-.26],[503,-.16],[505,-.25],[507,-.33],[508,-.36],[510,-.3],[512,-.22],[514,-.16],[517,-.12],[520,-.11],[522,-.16],[524,-.24],[526,-.27],[528,-.17],[530,-.02],[532,.06],[535,.07],[538,.05],[541,.06],[544,.05],[547,.04],[550,0]];
const sd2=[[405,.01],[406,.01],[409,.02],[412,.03],[415,.03],[418,.04],[421,.05],[424,.07],[427,.1],[430,.07],[433,.05],[436,.08],[439,.14],[442,.26],[444,.35],[446,.42],[447,.45],[448,.56],[450,.52],[451,.5],[454,.57],[456,.53],[457,.52],[460,.55],[462,.7],[464,.9],[466,.97],[468,.93],[469,.92],[471,.86],[472,.79],[474,.86],[475,.88],[478,.85],[480,.83],[481,.78],[484,.71],[486,.62],[488,.55],[490,.5],[492,.45],[494,.38],[496,.34],[498,.25],[500,.2],[502,.17],[504,.2],[506,.28],[508,.32],[510,.27],[511,.22],[513,.13],[514,.11],[516,.13],[517,.15],[519,.22],[520,.15],[523,.05],[526,.02],[529,.04],[532,.03],[535,.06],[537,.09],[538,.08],[541,.05],[544,.03],[547,.04],[550,.04]];
const rd2v=[-0.005,-0.02,0.005,-0.03,-0.005,-0.18,-0.37,-0.56,-0.74,-0.9,-1.17,-1.05,-1.15,-1.02,-1.01,-0.81,-0.58,-0.54,-0.39,-0.29,-0.19,-0.14,-0.02,0.01,-0.02];
const rd2=[[405,0]];lam.forEach((l,i)=>rd2.push([l,rd2v[i]]));
function noisy(tab,amp){const s=cr(tab,0.7);return s.map(p=>[p[0],p[1]+(rnd()-0.5)*2*amp]);}
function valAt(tab,l){for(let i=0;i<tab.length-1;i++){if(l>=tab[i][0]&&l<=tab[i+1][0]){const t=(l-tab[i][0])/(tab[i+1][0]-tab[i][0]);return tab[i][1]+t*(tab[i+1][1]-tab[i][1]);}}return tab[tab.length-1][1];}
pl(noisy(sd1,0.018).map(p=>[xf(p[0]),yt(p[1])]),fB,4.5);
pl(noisy(rd1,0.018).map(p=>[xf(p[0]),yt(p[1])]),fB,4.5);
pl(noisy(sd2,0.02).map(p=>[xf(p[0]),ybt(p[1])]),fG,4.5);
pl(noisy(rd2,0.025).map(p=>[xf(p[0]),ybt(p[1])]),fG,4.5);
lam.forEach(l=>{mk(xf(l),yt(valAt(sd1,l)),6.5,fB,false);mk(xf(l),yt(valAt(rd1,l)),6.5,fB,true,'mB');mk(xf(l),ybt(valAt(sd2,l)),6.5,fG,false);mk(xf(l),ybt(valAt(rd2,l)),6.5,fG,true,'mG');});
ln(3674,1176,3760,1176,4.5,fB,D);mk(3716,1176,7,fB,false);
ln(3674,1222,3760,1222,4.5,fB,D);mk(3716,1222,7,fB,true,'mB');
ln(3677,1502,3763,1502,4.5,fG,D);mk(3720,1502,7,fG,false);
ln(3677,1549,3763,1549,4.5,fG,D);mk(3720,1549,7,fG,true,'mG');
})();
</script>
</body></html>
